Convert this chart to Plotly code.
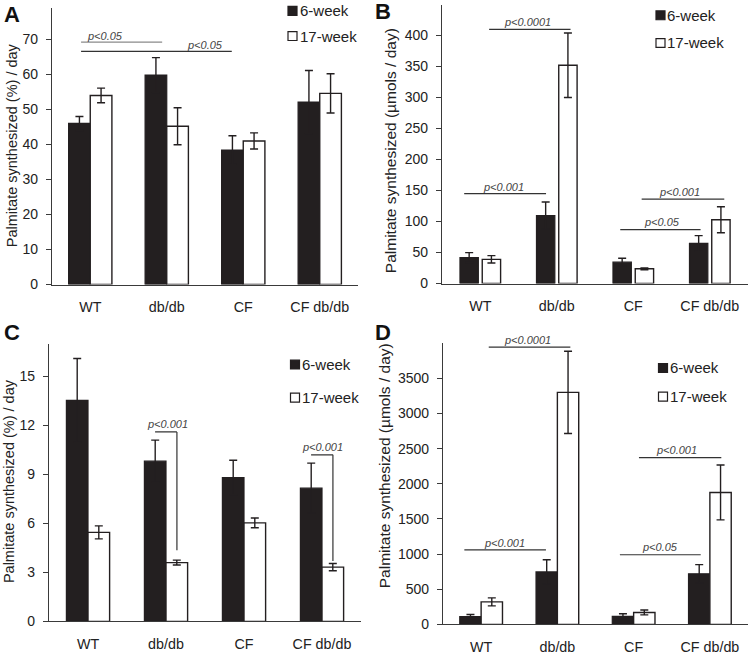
import plotly.graph_objects as go

categories = ["WT", "db/db", "CF", "CF db/db"]

# Panel A: Palmitate synthesized (%) / day
a_6wk = [46.0, 59.8, 38.4, 52.1]
a_6wk_err = [2.0, 5.0, 4.1, 9.0]
a_17wk = [54.0, 45.2, 41.0, 54.6]
a_17wk_err = [2.1, 5.3, 2.3, 5.6]
a_ticks = [0, 10, 20, 30, 40, 50, 60, 70]

# Panel B: Palmitate synthesized (umols / day)
b_6wk = [41.9, 109.7, 34.4, 64.6]
b_6wk_err = [8.0, 21.7, 6.4, 12.7]
b_17wk = [39.0, 352.0, 23.8, 102.8]
b_17wk_err = [6.0, 52.0, 1.5, 21.0]
b_ticks = [0, 50, 100, 150, 200, 250, 300, 350, 400]

# Panel C: Palmitate synthesized (%) / day
c_6wk = [13.53, 9.81, 8.81, 8.16]
c_6wk_err = [2.57, 1.29, 1.06, 1.53]
c_17wk = [5.45, 3.60, 6.03, 3.32]
c_17wk_err = [0.40, 0.15, 0.30, 0.22]
c_ticks = [0, 3, 6, 9, 12, 15]

# Panel D: Palmitate synthesized (umols / day)
d_6wk = [110, 746, 113, 718]
d_6wk_err = [30, 173, 38, 131]
d_17wk = [320, 3300, 169, 1876]
d_17wk_err = [57, 585, 35, 390]
d_ticks = [0, 500, 1000, 1500, 2000, 2500, 3000, 3500]

series_names = ["6-week", "17-week"]

W, H = 749, 659
DARK = "#231f20"
AX = "#3a3a3a"

def px(x):
    return x / W

def py(y):
    return 1 - y / H

panels = [
    dict(ax="", v6=a_6wk, e6=a_6wk_err, v17=a_17wk, e17=a_17wk_err, ticks=a_ticks,
         xd=[px(52), px(358)], yd=[py(288), py(8)], yr=[0, 79],
         w=0.283, off6=-0.283, off17=0.0),
    dict(ax="2", v6=b_6wk, e6=b_6wk_err, v17=b_17wk, e17=b_17wk_err, ticks=b_ticks,
         xd=[px(442), px(748)], yd=[py(287), py(4.6)], yr=[0, 450],
         w=0.24, off6=-0.265, off17=0.026),
    dict(ax="3", v6=c_6wk, e6=c_6wk_err, v17=c_17wk, e17=c_17wk_err, ticks=c_ticks,
         xd=[px(49), px(361)], yd=[py(629), py(348)], yr=[0, 17],
         w=0.277, off6=-0.277, off17=0.0),
    dict(ax="4", v6=d_6wk, e6=d_6wk_err, v17=d_17wk, e17=d_17wk_err, ticks=d_ticks,
         xd=[px(443), px(748)], yd=[py(632), py(347.4)], yr=[0, 4000],
         w=0.28, off6=-0.28, off17=0.0),
]

fig = go.Figure()
layout = dict(
    width=W, height=H, margin=dict(l=0, r=0, t=0, b=0),
    paper_bgcolor="white", plot_bgcolor="white",
    barmode="overlay", showlegend=False,
    font=dict(family="Liberation Sans, Arial, sans-serif", color="#222", size=14),
)

for p in panels:
    xa = "x" + p["ax"]
    ya = "y" + p["ax"]
    fig.add_trace(go.Bar(
        x=categories, y=p["v6"], name=series_names[0], xaxis=xa, yaxis=ya,
        width=p["w"], offset=p["off6"],
        marker=dict(color=DARK, line=dict(color=DARK, width=1.2)),
        error_y=dict(type="data", array=p["e6"], color=DARK, thickness=1.4, width=4),
    ))
    fig.add_trace(go.Bar(
        x=categories, y=p["v17"], name=series_names[1], xaxis=xa, yaxis=ya,
        width=p["w"], offset=p["off17"],
        marker=dict(color="white", line=dict(color=DARK, width=1.4)),
        error_y=dict(type="data", array=p["e17"], color=DARK, thickness=1.4, width=4),
    ))
    layout["xaxis" + p["ax"]] = dict(
        domain=p["xd"], anchor=ya, range=[-0.5, 3.5], type="category",
        showline=True, linecolor=AX, linewidth=1.3, ticks="",
        showgrid=False, zeroline=False, tickfont=dict(size=14.3, color="#222"),
        ticklabelstandoff=9,
    )
    layout["yaxis" + p["ax"]] = dict(
        domain=p["yd"], anchor=xa, range=p["yr"], tickvals=p["ticks"],
        showline=True, linecolor=AX, linewidth=1.3, ticks="outside", ticklen=5,
        tickcolor=AX, tickwidth=1.3,
        showgrid=False, zeroline=False, tickfont=dict(size=14, color="#222"),
        ticklabelstandoff=5,
    )

fig.update_layout(**layout)

shapes = []
annotations = []

def sig_line(ax, x0, x1, y, color="#333"):
    shapes.append(dict(type="line", xref="x" + ax, yref="y" + ax, x0=x0, x1=x1, y0=y, y1=y,
                       line=dict(color=color, width=1.2)))

def sig_text(ax, x, y, text, yref=None):
    annotations.append(dict(xref="x" + ax, yref=yref or ("y" + ax), x=x, y=y, text="<i>" + text + "</i>",
                            showarrow=False, font=dict(size=11, color="#444")))

# Panel A significance
sig_line("", -0.12, 0.94, 69.2, color="#8a8a8a")
sig_text("", 0.19, 71.1, "p&lt;0.05")
sig_line("", -0.12, 1.85, 66.6)
sig_text("", 1.5, 68.5, "p&lt;0.05")

# Panel B significance
sig_line("2", 0.116, 1.18, 410)
sig_text("2", 0.62, 422, "p&lt;0.0001")
sig_line("2", -0.21, 0.86, 145)
sig_text("2", 0.31, 155, "p&lt;0.001")
sig_line("2", 2.11, 3.19, 136)
sig_text("2", 2.6, 148, "p&lt;0.001")
sig_line("2", 1.83, 2.88, 87)
sig_text("2", 2.37, 99, "p&lt;0.05")

# Panel C brackets
for (x0, x1, ytop, ybot, tx, ty) in [(0.86, 1.14, 11.6, 4.36, 1.02, 12.1), (2.86, 3.14, 10.2, 3.7, 3.0, 10.7)]:
    shapes.append(dict(type="line", xref="x3", yref="y3", x0=x0, x1=x1, y0=ytop, y1=ytop,
                       line=dict(color="#333", width=1.2)))
    shapes.append(dict(type="line", xref="x3", yref="y3", x0=x1, x1=x1, y0=ytop, y1=ybot,
                       line=dict(color="#333", width=1.2)))
    sig_text("3", tx, ty, "p&lt;0.001")

# Panel D significance
sig_line("4", 0.10, 1.17, 3945)
sig_text("4", 0.61, py(344), "p&lt;0.0001", yref="paper")
sig_line("4", -0.22, 0.85, 1060)
sig_text("4", 0.30, 1154, "p&lt;0.001")
sig_line("4", 2.07, 3.15, 2373)
sig_text("4", 2.56, 2477, "p&lt;0.001")
sig_line("4", 1.82, 2.88, 990)
sig_text("4", 2.35, 1107, "p&lt;0.05")

# Legends drawn per panel (square + label)
legend_pos = [  # (square center x, y of 6-week, y of 17-week, text start x)
    (292.5, 11, 36.5, 298),
    (660.5, 15.5, 43.5, 665),
    (295, 369, 402.5, 300),
    (663, 372.5, 401.5, 668),
]
for (sx, y6, y17, tx) in legend_pos:
    for yy, fill, label in [(y6, DARK, series_names[0]), (y17, "white", series_names[1])]:
        shapes.append(dict(type="rect", xref="paper", yref="paper",
                           x0=px(sx - 4.5), x1=px(sx + 4.5), y0=py(yy + 4.5), y1=py(yy - 4.5),
                           fillcolor=fill, line=dict(color=DARK, width=1.2)))
        annotations.append(dict(xref="paper", yref="paper", x=px(tx), y=py(yy), text=label,
                                xanchor="left", yanchor="middle", showarrow=False,
                                font=dict(size=15, color="#222")))

# Y axis titles
for (cx, cy, text, size) in [
    (12, 147, "Palmitate synthesized (%) / day", 14.5),
    (390, 153, "Palmitate synthesized (µmols / day)", 15.5),
    (9, 487, "Palmitate synthesized (%) / day", 14.5),
    (384, 472, "Palmitate synthesized (µmols / day)", 15.5),
]:
    annotations.append(dict(xref="paper", yref="paper", x=px(cx), y=py(cy), text=text,
                            textangle=-90, showarrow=False, xanchor="center", yanchor="middle",
                            font=dict(size=size, color="#222")))

# Panel letters
for (cx, cy, letter) in [(12, 14.5, "A"), (383, 12, "B"), (12, 337, "C"), (383, 337, "D")]:
    annotations.append(dict(xref="paper", yref="paper", x=px(cx), y=py(cy), text="<b>" + letter + "</b>",
                            showarrow=False, xanchor="center", yanchor="middle",
                            font=dict(size=22, color="#111")))

fig.update_layout(shapes=shapes, annotations=annotations)
fig.write_html(
    "out.html",
    config={"displayModeBar": False},
    post_script="document.body.style.margin='0px'; document.body.style.overflow='hidden';",
)
